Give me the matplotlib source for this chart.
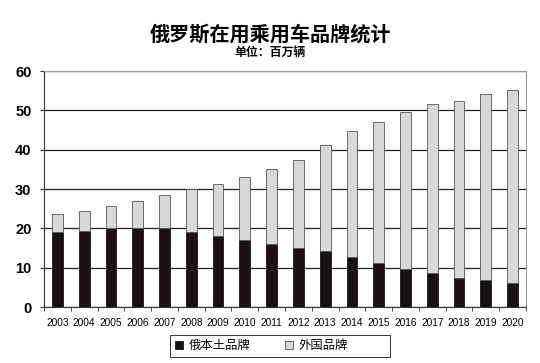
import matplotlib
matplotlib.use("Agg")
import matplotlib.pyplot as plt
from matplotlib.patches import Rectangle
import numpy as np

years = ["2003", "2004", "2005", "2006", "2007", "2008", "2009", "2010", "2011",
         "2012", "2013", "2014", "2015", "2016", "2017", "2018", "2019", "2020"]
domestic = [19.0, 19.3, 20.1, 20.0, 20.1, 19.0, 18.0, 17.1, 16.1,
            15.1, 14.2, 12.7, 11.1, 9.8, 8.6, 7.5, 7.0, 6.1]
foreign = [4.6, 5.2, 5.6, 7.0, 8.5, 11.0, 13.2, 16.1, 19.1,
           22.2, 27.0, 32.1, 36.0, 39.7, 43.1, 45.0, 47.2, 49.0]

title = "俄罗斯在用乘用车品牌统计"
subtitle = "单位：百万辆"
legend_labels = ["俄本土品牌", "外国品牌"]

plt.rcParams['font.family'] = ['Liberation Sans', 'Noto Sans CJK SC', 'DejaVu Sans']

fig = plt.figure(figsize=(5.4, 3.63), dpi=100)
ax = fig.add_axes([0.0815, 0.154, 0.8925, 0.650])

x = np.arange(len(years))
w = 0.4
b1 = ax.bar(x, domestic, width=w, color="#1a1212", edgecolor="#1a1212", linewidth=0.6, zorder=3,
            label=legend_labels[0])
b2 = ax.bar(x, foreign, width=w, bottom=domestic, color="#d8d8d6", edgecolor="#555555",
            linewidth=0.6, zorder=3, label=legend_labels[1])

ax.set_xlim(-0.5, len(years) - 0.5)
ax.set_ylim(0, 60)
ax.set_yticks([0, 10, 20, 30, 40, 50, 60])
ax.yaxis.grid(True, color="#222222", linewidth=0.9, zorder=0)
ax.set_axisbelow(True)

ax.set_xticks(x)
ax.set_xticklabels(years, fontsize=7.3, family=['Liberation Sans'])
ax.tick_params(axis='x', length=0, pad=8)
ax.set_xticks(np.arange(-0.5, len(years), 1.0), minor=True)
ax.tick_params(axis='x', which='minor', length=3, direction='out', color="#333333")
for lbl in ax.get_yticklabels():
    lbl.set_fontweight('bold')
ax.tick_params(axis='y', labelsize=10.5, length=3, direction='out', pad=6, color="#333333")

ax.spines['left'].set_color("#333333")
ax.spines['bottom'].set_color("#333333")
ax.spines['top'].set_color("#999999")
ax.spines['right'].set_color("#999999")

fig.text(0.5, 0.905, title, ha='center', va='center', fontsize=14.5, fontweight='bold',
         family=['Noto Sans CJK SC', 'DejaVu Sans'])
fig.text(0.5, 0.855, subtitle, ha='center', va='center', fontsize=8.6, fontweight='bold',
         family=['Noto Sans CJK SC', 'DejaVu Sans'])

leg = fig.legend(handles=[b1, b2], labels=legend_labels, loc='center left',
                 bbox_to_anchor=(0.324, 0.047),
                 ncol=2, frameon=False,
                 handlelength=0.65, handleheight=0.65, columnspacing=2.8, handletextpad=0.45,
                 borderpad=0, borderaxespad=0,
                 prop={'family': ['Noto Sans CJK SC', 'DejaVu Sans'], 'size': 8.9})
fig.patches.append(Rectangle((0.3148, 0.0165), 0.4074, 0.0606, transform=fig.transFigure,
                             fill=False, edgecolor="#333333", linewidth=0.7))

fig.savefig("out.png", dpi=100, facecolor="white")
